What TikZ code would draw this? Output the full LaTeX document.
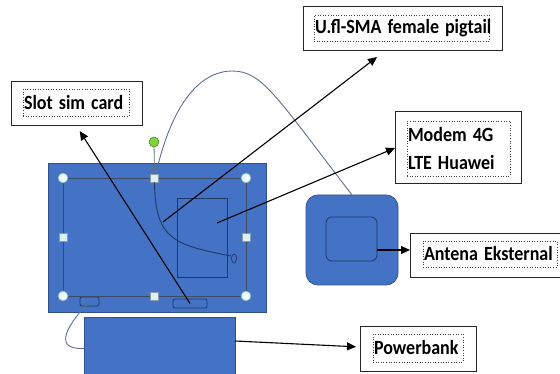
\documentclass[tikz,border=0pt]{standalone}
\usepackage{graphicx}
\usepackage{fontspec}
\setmainfont{Carlito}
\usetikzlibrary{arrows.meta,shapes.geometric}
\definecolor{boardblue}{HTML}{4472C4}
\definecolor{edgeblue}{HTML}{2F528F}
\definecolor{cable}{HTML}{5B7090}
\definecolor{navy}{HTML}{1F3864}
\definecolor{handlefill}{HTML}{DDEFF7}
\definecolor{handleedge}{HTML}{8A9BAE}
\definecolor{greenh}{HTML}{7ED33A}
\definecolor{frameline}{HTML}{3B4B66}
\newcommand\tallt[1]{\scalebox{1}[1.12]{#1}}
\begin{document}
\begin{tikzpicture}[x=1pt,y=-1pt,
  box/.style={draw=black!85, line width=1pt, fill=white, inner sep=0pt, outer sep=0pt},
  txt/.style={draw=black!75, dotted, line width=0.6pt, inner xsep=1pt, inner ysep=0pt, font=\bfseries\fontsize{18}{28}\selectfont, align=left},
  part/.style={draw=edgeblue, fill=boardblue, line width=0.8pt, inner sep=0pt, outer sep=0pt},
  inpart/.style={draw=navy, line width=0.8pt, inner sep=0pt, outer sep=0pt},
  arr/.style={-{Triangle[length=9pt,width=8pt]}, line width=1.1pt, black},
  chandle/.style={circle, draw=handleedge, inner color=white, outer color=handlefill!80!cyan!60, minimum size=10pt, inner sep=0pt, line width=0.6pt},
  shandle/.style={rectangle, draw=handleedge, fill=handlefill, minimum size=8pt, inner sep=0pt, line width=0.6pt},
]
\useasboundingbox (0,0) rectangle (560,374);
\clip (0,0) rectangle (560,374);
% board
\node[part, minimum width=218pt, minimum height=149pt] (board) at (157,237.5) {};
\node[inpart, minimum width=50pt, minimum height=79pt] (modemrect) at (202,237.5) {};
\node[inpart, rounded corners=2pt, minimum width=19pt, minimum height=9pt] (slot1) at (89.5,301.5) {};
\node[inpart, rounded corners=2pt, minimum width=34pt, minimum height=9pt] (slot2) at (190,303.5) {};
% powerbank block
\node[part, minimum width=151pt, minimum height=63pt] (pbrect) at (159.5,348.5) {};
% antenna block
\node[part, rounded corners=12pt, minimum width=92pt, minimum height=90pt] (antbox) at (352,240) {};
\node[inpart, rounded corners=6pt, minimum width=51pt, minimum height=44pt] (antinner) at (351.5,239) {};
% selection frame
\node[draw=frameline, line width=0.7pt, minimum width=183pt, minimum height=118pt, inner sep=0pt, outer sep=0pt] (frame) at (154.5,237) {};
% cables
\coordinate (cabtop) at (157,169);
\coordinate (cabpeak) at (232,71);
\draw[cable, line width=0.9pt] (cabtop) .. controls (175,95) and (205,71) .. (cabpeak)
   .. controls (262,71) and (275,95) .. (antbox.north);
\draw[cable, line width=0.9pt] (150,175) .. controls (148,166) and (154,163) .. (cabtop);
\node[circle, fill=greenh, draw=greenh!60!black, minimum size=10pt, inner sep=0pt, line width=0.5pt] (green) at (154,142) {};
\node[shandle] (hN) at (154.5,178) {};
\draw[cable, line width=0.8pt] (green) -- (hN);
\draw[navy, line width=0.9pt] (hN.south) .. controls (155,240) and (175,245) .. (231,256);
\node[draw=navy, line width=0.7pt, ellipse, minimum width=5pt, minimum height=9pt, inner sep=0pt] (pigend) at (234,258.5) {};
\draw[cable, line width=0.9pt] (slot1.center) .. controls (70,322) and (50,350) .. (pbrect.west);
% handles
\node[chandle] (hNW) at (63,178) {};
\node[chandle] (hNE) at (246,178) {};
\node[chandle] (hSW) at (63,296) {};
\node[chandle] (hSE) at (246,296) {};
\node[shandle] (hW) at (63,237) {};
\node[shandle] (hE) at (246,237) {};
\node[shandle] (hS) at (154.5,296) {};
% label boxes
\node[box, minimum width=131pt, minimum height=44pt] (simbox) at (76.5,104) {};
\node[txt, text width=104pt, minimum height=27pt] (simtxt) at (76,102.5) {\tallt{Slot sim card}};
\node[box, minimum width=199pt, minimum height=44pt] (uflbox) at (402.5,29) {};
\node[txt, text width=173pt, minimum height=26pt] (ufltxt) at (401.5,28) {\tallt{U.fl-SMA female pigtail}};
\node[box, minimum width=126pt, minimum height=72pt] (modembox) at (458,148) {};
\node[txt, text width=101pt, minimum height=55pt] (modemtxt) at (458.5,148.5) {\tallt{Modem 4G}\\\tallt{LTE Huawei}};
\node[box, minimum width=150pt, minimum height=44pt] (antlabel) at (485,256) {};
\node[txt, text width=132pt, minimum height=26pt] (anttxt) at (490,254) {\tallt{Antena Eksternal}};
\node[box, minimum width=116pt, minimum height=44pt] (pbbox) at (418,349) {};
\node[txt, text width=88pt, minimum height=28pt] (pbtxt) at (418,348) {\tallt{Powerbank}};
% arrows
\coordinate (uflstart) at (163,222);
\coordinate (ufltip) at (377,57);
\coordinate (modemstart) at (217,223);
\draw[arr, shorten >=6pt] (slot2.center) -- (simbox.south);
\draw[arr] (uflstart) -- (ufltip);
\draw[arr] (modemstart) -- (modembox.west);
\draw[arr] ([yshift=-11pt]antinner.east) -- ([yshift=6pt]antlabel.west);
\draw[arr, shorten >=4pt] ([yshift=7.5pt]pbrect.east) -- ([yshift=2pt]pbbox.west);
\end{tikzpicture}
\end{document}
